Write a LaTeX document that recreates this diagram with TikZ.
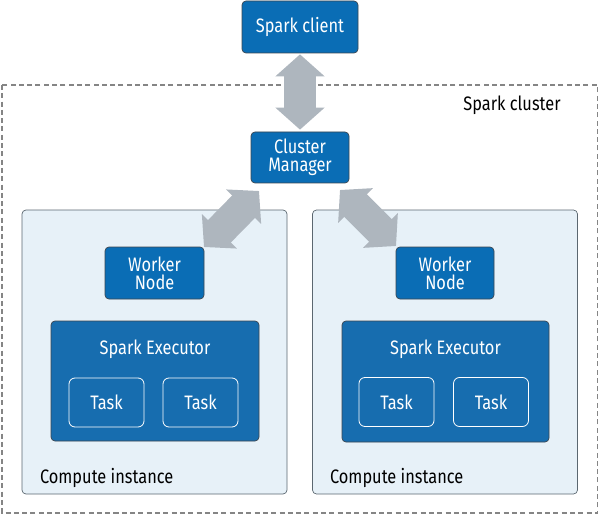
\documentclass[tikz,border=0pt]{standalone}
\usepackage{fontspec}
\setmainfont{Fira Sans}[FakeStretch=0.84]
\usetikzlibrary{arrows.meta}
\definecolor{sblue}{HTML}{0A6DB5}
\definecolor{eblue}{HTML}{176DAF}
\definecolor{ciFill}{HTML}{E7F1F8}
\definecolor{ciLine}{HTML}{5B6770}
\definecolor{arrowgray}{HTML}{AEB6BE}
\definecolor{dashgray}{HTML}{858585}
\definecolor{boxline}{HTML}{3C4650}
\begin{document}
\begin{tikzpicture}[x=1pt,y=-1pt,
  txt/.style={font=\fontsize{19.5}{20}\selectfont},
  bluebox/.style={txt, draw=boxline, line width=0.7pt, fill=sblue, rounded corners=4pt,
    text=white, align=center, inner sep=0pt},
  execbox/.style={draw=boxline, line width=0.7pt, fill=eblue, rounded corners=4pt, inner sep=0pt},
  taskbox/.style={txt, draw=white, line width=0.8pt, rounded corners=6pt, text=white,
    inner sep=0pt, minimum width=75pt, minimum height=49pt},
  cibox/.style={draw=ciLine, line width=0.7pt, fill=ciFill, rounded corners=4pt, inner sep=0pt,
    minimum width=265pt, minimum height=284pt},
  bigarrow/.style={arrowgray, line width=32pt,
    {Triangle[length=22pt,width=48pt]}-{Triangle[length=22pt,width=48pt]}}
]
\useasboundingbox (0,0) rectangle (600,516);
% cluster
\draw[dashgray, line width=1.3pt, dash pattern=on 5pt off 3.3pt] (2,85) rectangle (597.5,513);
\node[txt, anchor=center] (clusterlbl) at (512,105) {Spark cluster};
% compute instances
\node[cibox] (ciL) at (154.5,352) {};
\node[cibox] (ciR) at (445,352) {};
\node[txt, anchor=west] (ciLlbl) at (36.5,477.5) {Compute instance};
\node[txt, anchor=west] (ciRlbl) at (326.5,477.5) {Compute instance};
% top nodes
\node[bluebox, minimum width=116pt, minimum height=52pt] (client) at (300,27) {Spark client};
\node[bluebox, minimum width=98pt, minimum height=51pt] (cm) at (300,157.5) {Cluster\\[-2pt]Manager};
% worker nodes
\node[bluebox, minimum width=99pt, minimum height=52pt] (wnL) at (154.5,273) {Worker\\[-2pt]Node};
\node[bluebox, minimum width=98pt, minimum height=52pt] (wnR) at (445,273) {Worker\\[-2pt]Node};
% executors
\node[execbox, minimum width=208pt, minimum height=120pt] (exL) at (155,381) {};
\node[execbox, minimum width=207pt, minimum height=121pt] (exR) at (445.5,381.5) {};
\node[txt, text=white] (exLlbl) at (155,349) {Spark Executor};
\node[txt, text=white] (exRlbl) at (445.5,349) {Spark Executor};
% tasks
\node[taskbox] (t1) at (106.5,402.5) {Task};
\node[taskbox] (t2) at (200.5,402.5) {Task};
\node[taskbox] (t3) at (396.5,402) {Task};
\node[taskbox] (t4) at (491,402) {Task};
% arrows
\coordinate (aLs) at (259,191);
\coordinate (aLe) at (204,247);
\coordinate (aRs) at (340,190);
\coordinate (aRe) at (396,246);
\draw[bigarrow] ([yshift=-1pt]client.south) -- ([yshift=2pt]cm.north);
\draw[bigarrow] (aLs) -- (aLe);
\draw[bigarrow] (aRs) -- (aRe);
\end{tikzpicture}
\end{document}
